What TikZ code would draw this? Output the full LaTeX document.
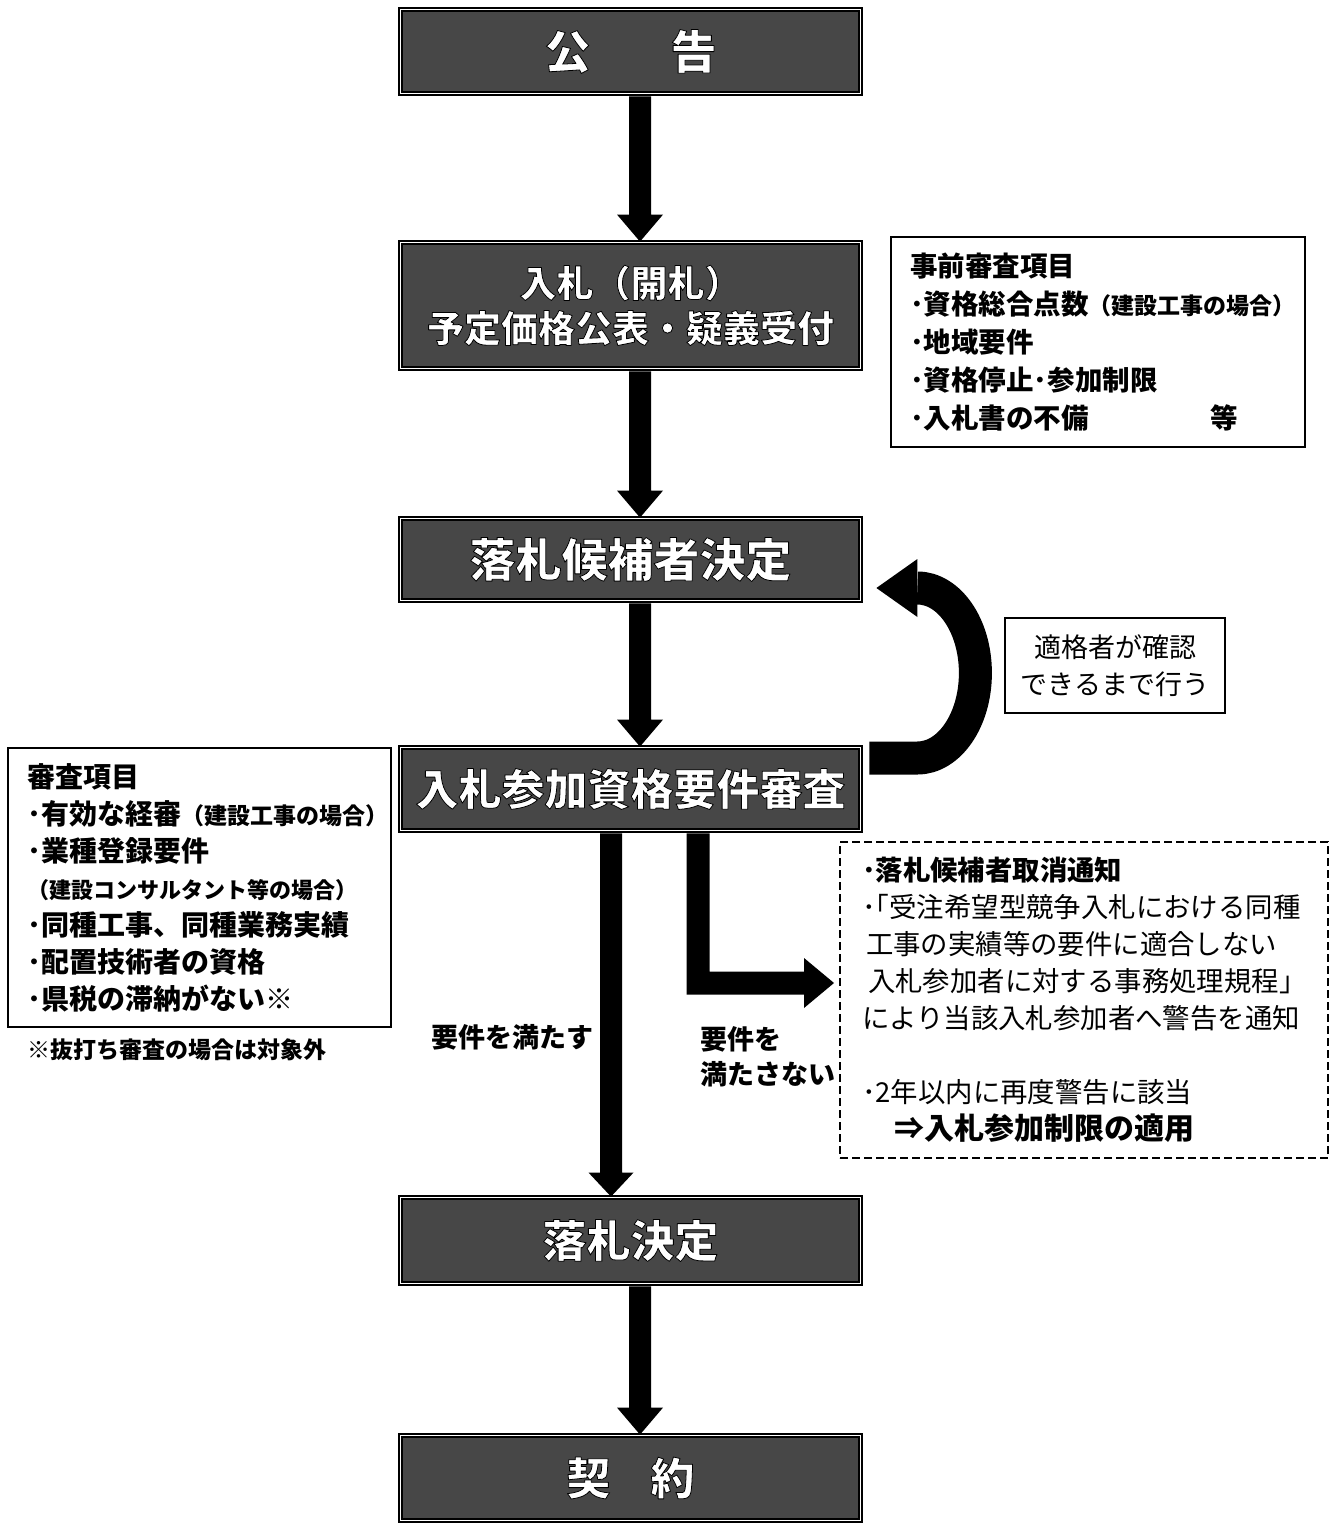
\documentclass[tikz,border=0pt]{standalone}
\usepackage{fontspec}
\setmainfont{Noto Sans CJK JP}
\usetikzlibrary{calc}

% white text with a thin black outline: PDF text render mode 2 (fill + stroke)
\newcommand\otext[1]{\special{pdf:literal direct 2 Tr 0.4 w 1 j 0 G 1 g}#1\special{pdf:literal direct 0 Tr 0 g 0 G}}

\newcommand\bigdown[5]{%
  \fill ($(#1)+(#3-11,2)$) -- ($(#1)+(#3+11,2)$) -- ($(#2)+(#3+11,-#5)$) --
        ($(#2)+(#3+#4,-#5)$) -- ($(#2)+(#3,0)$) -- ($(#2)+(#3-#4,-#5)$) --
        ($(#2)+(#3-11,-#5)$) -- cycle;}

\tikzset{
  mainbox/.style={draw=black, line width=0.9pt, double=white, double distance=0.7pt,
    fill=black!72, minimum width=230pt, inner sep=0pt},
  listbox/.style={draw=black, line width=1pt, align=left, inner ysep=0pt},
  lbl/.style={inner sep=0pt, font=\bfseries\fontsize{13.5}{17.5}\selectfont},
}

\begin{document}
\begin{tikzpicture}[x=0.5pt,y=-0.5pt]
\useasboundingbox (0,0) rectangle (1330,1529);

% main flow boxes
\node[mainbox, minimum height=42pt, font=\bfseries\fontsize{23}{27}\selectfont] (n1) at (630.5,51.5)
  {\otext{公\hspace{40pt}告}};
\node[mainbox, minimum height=63pt, align=center, font=\bfseries\fontsize{18.5}{22.5}\selectfont] (n2) at (630.5,305.5)
  {\otext{入札（開札）}\\\otext{予定価格公表・疑義受付}};
\node[mainbox, minimum height=41pt, font=\bfseries\fontsize{23}{27}\selectfont] (n3) at (630.5,559.5)
  {\otext{落札候補者決定}};
\node[mainbox, minimum height=41.5pt, font=\bfseries\fontsize{21.5}{27}\selectfont] (n4) at (630.5,789)
  {\otext{入札参加資格要件審査}};
\node[mainbox, minimum height=43pt, font=\bfseries\fontsize{22}{27}\selectfont] (n5) at (630.5,1240.5)
  {\otext{落札決定}};
\node[mainbox, minimum height=42.5pt, font=\bfseries\fontsize{22}{27}\selectfont] (n6) at (630.5,1478)
  {\otext{契\hspace{20pt}約}};

% side boxes
\node[listbox, text width=188pt, inner xsep=9.5pt, minimum height=105pt,
      font=\bfseries\fontsize{13.75}{19}\selectfont] (tr) at (1098,342)
  {事前審査項目\\
   ･資格総合点数{\fontsize{11.5}{19}\selectfont（建設工事の場合）}\\
   ･地域要件\\
   ･資格停止･参加制限\\
   ･入札書の不備\hspace{61pt}等};

\node[listbox, text width=172.5pt, inner xsep=9.5pt, minimum height=139.5pt,
      font=\bfseries\fontsize{14}{18.5}\selectfont] (lb) at (199.5,887.5)
  {審査項目\\
   ･有効な経審{\fontsize{11.5}{18.5}\selectfont（建設工事の場合）}\\
   ･業種登録要件\\
   {\fontsize{11}{18.5}\selectfont（建設コンサルタント等の場合）}\\
   ･同種工事、同種業務実績\\
   ･配置技術者の資格\\
   ･県税の滞納がない※};
\node[anchor=west, inner sep=0pt, font=\bfseries\fontsize{11.5}{14}\selectfont] (fn) at (27,1050)
  {※抜打ち審査の場合は対象外};

\node[draw=black, line width=0.75pt, minimum width=110pt, minimum height=47.5pt, align=center,
      font=\fontsize{13.5}{18.5}\selectfont] (qb) at (1115,665.5)
  {適格者が確認\\できるまで行う};

\node[draw=black, line width=1pt, dash pattern=on 4pt off 2pt, text width=222pt, inner xsep=11pt,
      inner ysep=0pt, minimum height=158pt, align=left, font=\fontsize{13.7}{18.5}\selectfont] (db) at (1084,1000)
  {{\bfseries ･落札候補者取消通知}\\
   ･｢受注希望型競争入札における同種\\
   \hspace{2pt}工事の実績等の要件に適合しない\\
   \hspace{3pt}入札参加者に対する事務処理規程｣\\
   により当該入札参加者へ警告を通知\\[18.5pt]
   ･2年以内に再度警告に該当\\
   \hspace{16pt}{\bfseries\fontsize{15}{18.5}\selectfont ⇒入札参加制限の適用}};

% labels
\node[lbl] (l1) at (512.5,1037) {要件を満たす};
\node[lbl, anchor=west, align=left] (l2) at (700,1056.5) {要件を\\満たさない};

% straight arrows
\bigdown{n1.south}{n2.north}{9.5}{23}{27}
\bigdown{n2.south}{n3.north}{9.5}{23}{27}
\bigdown{n3.south}{n4.north}{9.5}{23}{27}
\bigdown{n4.south}{n5.north}{-19.5}{22.5}{24}
\bigdown{n5.south}{n6.north}{9.5}{23}{27}

% L-shaped arrow to the dashed box
\coordinate (la) at ($(n4.south)+(56,2)$);
\coordinate (lt) at ($(db.west)+(-5,-17)$);
\coordinate (lc) at (la |- lt);
\fill (la) -- ($(la)+(23,0)$) -- ($(lc)+(23,-11.5)$) -- ($(lt)+(-30,-11.5)$) -- ($(lt)+(-30,-25)$)
  -- (lt) -- ($(lt)+(-30,25)$) -- ($(lt)+(-30,11.5)$) -- ($(lc)+(0,11.5)$) -- cycle;

% return arrow from n4 back to n3
\coordinate (cs) at ($(n4.east)+(8,-31)$);
\coordinate (ct) at ($(n3.east)+(15,28.5)$);
\coordinate (cb) at ($(ct)+(41,0)$);
\draw[line width=16.5pt] (cs) -- ++(48,0) .. controls +(32,0) and +(0,47) .. ++(58,-85)
  .. controls +(0,-47) and +(32,0) .. (cb);
\fill (ct) -- ($(cb)+(0,-29)$) -- ($(cb)+(0,29)$) -- cycle;
\end{tikzpicture}
\end{document}
